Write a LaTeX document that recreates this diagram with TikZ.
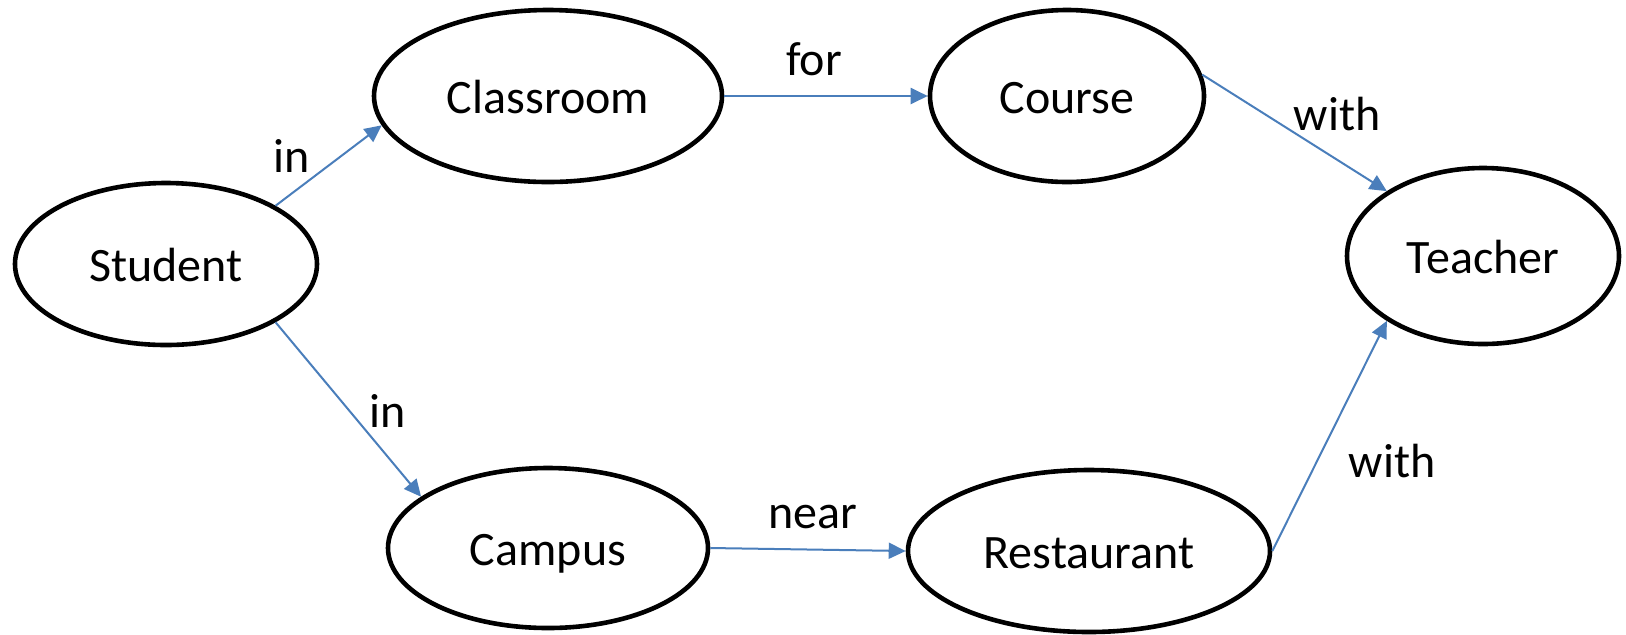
\documentclass[tikz,border=0pt]{standalone}
\usepackage{fontspec}
\setmainfont{Carlito}
\usetikzlibrary{shapes.geometric,arrows.meta}
\definecolor{linkblue}{HTML}{4A7EBB}
\begin{document}
\begin{tikzpicture}[x=0.5pt,y=-0.5pt,
  every node/.style={font=\fontsize{24pt}{28pt}\selectfont},
  entity/.style={ellipse,draw=black,line width=2.3pt,inner sep=0pt,
    text height=21.6pt,text depth=3.8pt},
  relation/.style={anchor=base,inner sep=0pt},
  link/.style={draw=linkblue,line width=1pt,
    -{Triangle[length=8.5pt,width=8pt]}}]
\useasboundingbox (0,0) rectangle (1626,634);
% entities
\node[entity,minimum width=151pt,minimum height=81pt] (student) at (166,264) {Student};
\node[entity,minimum width=174pt,minimum height=86pt] (classroom) at (548,96) {Classroom};
\node[entity,minimum width=137pt,minimum height=86pt] (course) at (1067,96) {Course};
\node[entity,minimum width=136pt,minimum height=88pt] (teacher) at (1483,256) {Teacher};
\node[entity,minimum width=160pt,minimum height=80pt] (campus) at (548,548) {Campus};
\node[entity,minimum width=181pt,minimum height=81pt] (restaurant) at (1089,551) {Restaurant};
% relations
\draw[link] (student.28) -- (classroom.190);
\draw[link] (student.-28) -- (campus.158);
\draw[link] (classroom.east) -- (course.west);
\draw[link] (campus.east) -- (restaurant.west);
\draw[link] (course.9) -- (teacher.146);
\draw[link] (restaurant.east) -- (teacher.214);
% relation labels
\node[relation] (lin1) at (292,172) {in};
\node[relation] (lin2) at (388,427) {in};
\node[relation] (lfor) at (814,75) {for};
\node[relation] (lnear) at (813,528) {near};
\node[relation] (lwith1) at (1337,130) {with};
\node[relation] (lwith2) at (1392,477) {with};
\end{tikzpicture}
\end{document}
